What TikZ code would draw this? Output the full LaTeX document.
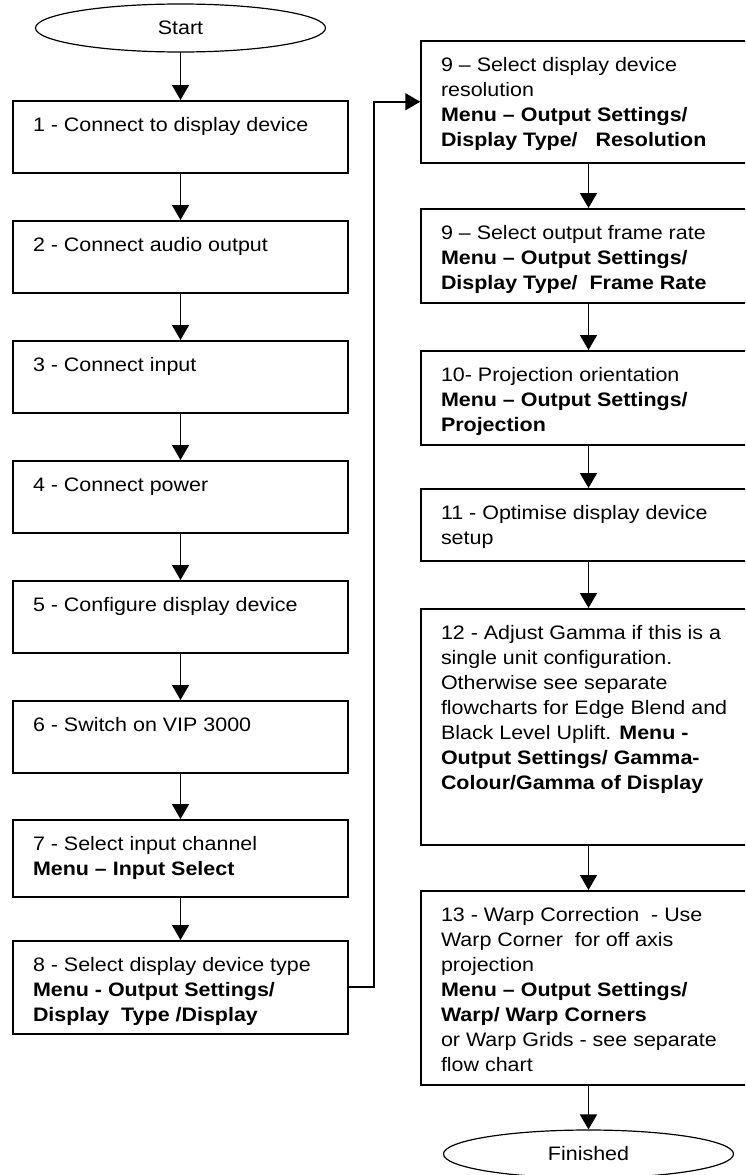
\documentclass[tikz,border=0pt]{standalone}
\usepackage{fontspec}
\setmainfont[FakeStretch=1.1]{Liberation Sans}
\usetikzlibrary{shapes.geometric,arrows.meta}

\newcommand{\boxtext}[2]{\parbox[c][#1pt][t]{295pt}{\raggedright\rule{0pt}{31pt}#2}}

\begin{document}
\begin{tikzpicture}
		[x=1pt,y=-1pt,line cap=round,
		%Styles
		>={Triangle[width=17pt,length=15pt]},
		flow line/.style={line width=1.6pt},
		step node/.style={rectangle,draw,line width=1.5pt,inner xsep=20pt,inner ysep=0pt,anchor=north},
		end node/.style={ellipse,draw,line width=1.2pt,minimum width=290pt,minimum height=48pt,inner sep=0pt},
		every node/.style={font=\fontsize{19.5}{25}\selectfont}
		]
		
		%The graphic
		\fill[white] (0,0) rectangle (745,1175);
		\useasboundingbox (0,0) rectangle (745,1175);
		\clip (0,0) rectangle (745,1175);
		
		%Left column
		\node[end node] (start) at (180.5, 28) {Start};
		\node[step node] (1) at (180.5, 100) {\boxtext{72}{1 - Connect to display device}};
		\node[step node] (2) at (180.5, 220) {\boxtext{72}{2 - Connect audio output}};
		\node[step node] (3) at (180.5, 340) {\boxtext{72}{3 - Connect input}};
		\node[step node] (4) at (180.5, 460) {\boxtext{72}{4 - Connect power}};
		\node[step node] (5) at (180.5, 580) {\boxtext{72}{5 - Configure display device}};
		\node[step node] (6) at (180.5, 700) {\boxtext{72}{6 - Switch on VIP 3000}};
		\node[step node] (7) at (180.5, 819) {\boxtext{77}{7 - Select input channel\\
			\textbf{Menu – Input Select}}};
		\node[step node] (8) at (180.5, 940) {\boxtext{93}{8 - Select display device type\\
			\textbf{Menu - Output Settings/}\\
			\textbf{Display\ \ Type /Display}}};
		
		%Right column
		\node[step node] (9a) at (588.5, 40) {\boxtext{122}{9 – Select display device\\
			resolution\\
			\textbf{Menu – Output Settings/}\\
			\textbf{Display Type/\ \ \ Resolution}}};
		\node[step node] (9b) at (588.5, 208) {\boxtext{94}{9 – Select output frame rate\\
			\textbf{Menu – Output Settings/}\\
			\textbf{Display Type/\ \ Frame Rate}}};
		\node[step node] (10) at (588.5, 350) {\boxtext{94}{10- Projection orientation\\
			\textbf{Menu – Output Settings/}\\
			\textbf{Projection}}};
		\node[step node] (11) at (588.5, 488) {\boxtext{72}{11 - Optimise display device\\
			setup}};
		\node[step node] (12) at (588.5, 608) {\boxtext{236}{12 - Adjust Gamma if this is a\\
			single unit configuration.\\
			Otherwise see separate\\
			flowcharts for Edge Blend and\\
			Black Level Uplift. \textbf{Menu -}\\
			\textbf{Output Settings/ Gamma-}\\
			\textbf{Colour/Gamma of Display}}};
		\node[step node] (13) at (588.5, 890) {\boxtext{194}{13 - Warp Correction\ \ - Use\\
			Warp Corner\ \ for off axis\\
			projection\\
			\textbf{Menu – Output Settings/}\\
			\textbf{Warp/ Warp Corners}\\
			or Warp Grids - see separate\\
			flow chart}};
		\node[end node] (fin) at (588.5, 1154) {Finished};
		
		\path[flow line,->] (start) edge (1)
							(1) edge (2)
							(2) edge (3)
							(3) edge (4)
							(4) edge (5)
							(5) edge (6)
							(6) edge (7)
							(7) edge (8);
		\draw[flow line,->] (8.east) -- ++(25,0) |- (9a.west);
		\path[flow line,->] (9a) edge (9b)
							(9b) edge (10)
							(10) edge (11)
							(11) edge (12)
							(12) edge (13)
							(13) edge (fin);
	\end{tikzpicture}
\end{document}
